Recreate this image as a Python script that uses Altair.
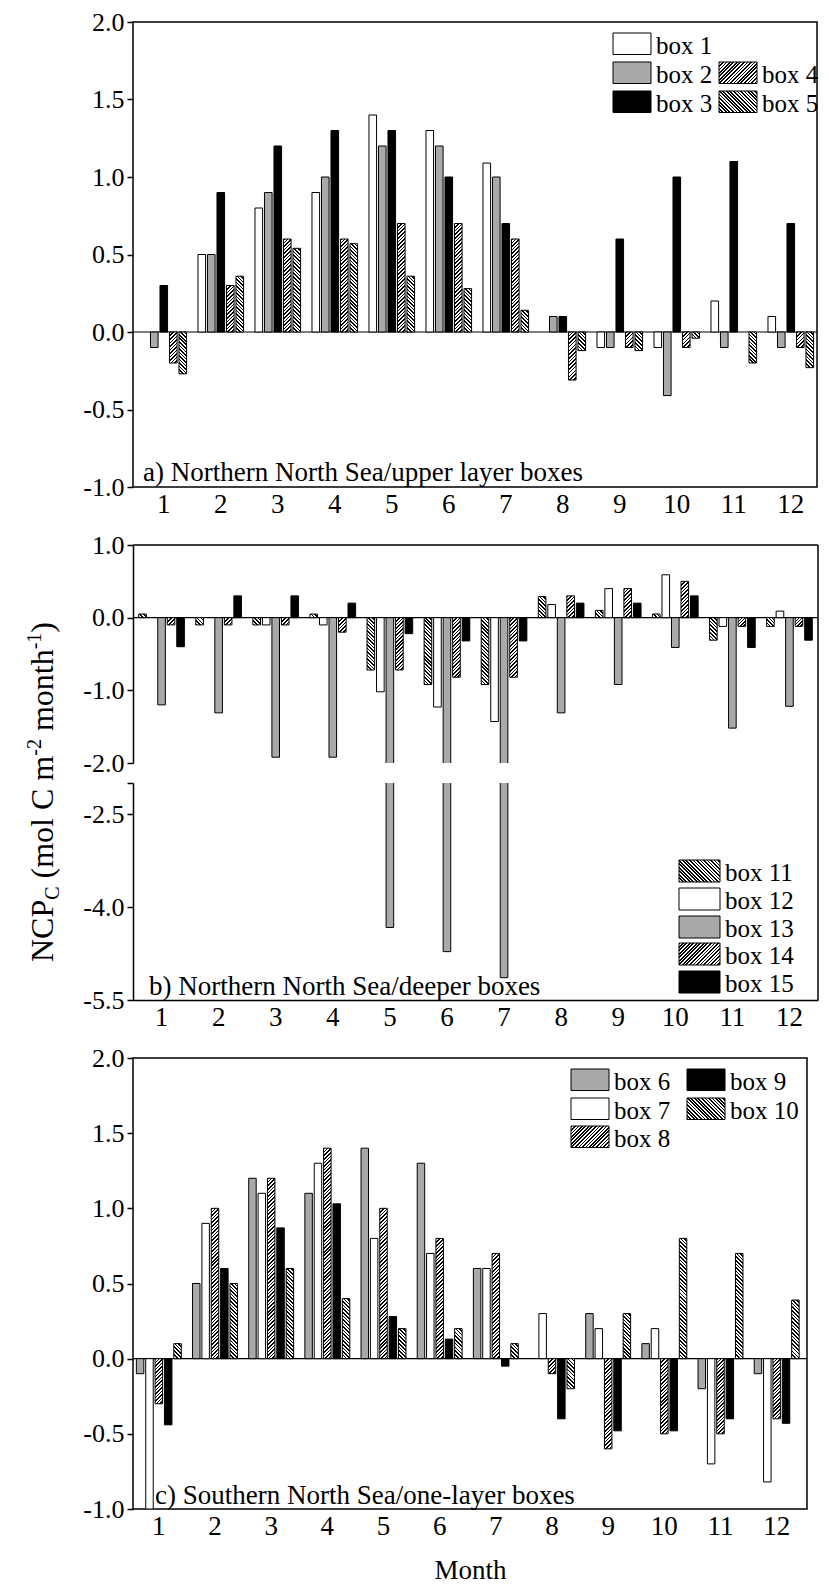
import altair as alt

# ---------------- data ----------------
MONTHS = [1, 2, 3, 4, 5, 6, 7, 8, 9, 10, 11, 12]

# a) Northern North Sea / upper layer boxes
BOXES_A = ["box 1", "box 2", "box 3", "box 4", "box 5"]
A_BOX1 = [0, 0.5, 0.8, 0.9, 1.4, 1.3, 1.09, 0, -0.1, -0.1, 0.2, 0.1]
A_BOX2 = [-0.1, 0.5, 0.9, 1.0, 1.2, 1.2, 1.0, 0.1, -0.1, -0.41, -0.1, -0.1]
A_BOX3 = [0.3, 0.9, 1.2, 1.3, 1.3, 1.0, 0.7, 0.1, 0.6, 1.0, 1.1, 0.7]
A_BOX4 = [-0.2, 0.3, 0.6, 0.6, 0.7, 0.7, 0.6, -0.31, -0.1, -0.1, 0, -0.1]
A_BOX5 = [-0.27, 0.36, 0.54, 0.57, 0.36, 0.28, 0.14, -0.12, -0.12, -0.04, -0.2, -0.23]

# b) Northern North Sea / deeper boxes
BOXES_B = ["box 11", "box 12", "box 13", "box 14", "box 15"]
B_BOX11 = [0.05, -0.1, -0.1, 0.05, -0.72, -0.92, -0.92, 0.29, 0.1, 0.05, -0.31, -0.12]
B_BOX12 = [0, 0, -0.1, -0.1, -1.02, -1.23, -1.43, 0.18, 0.4, 0.59, -0.12, 0.09]
B_BOX13 = [-1.2, -1.31, -1.92, -1.92, -4.33, -4.72, -5.14, -1.31, -0.92, -0.41, -1.52, -1.22]
B_BOX14 = [-0.1, -0.1, -0.1, -0.2, -0.72, -0.82, -0.82, 0.3, 0.4, 0.5, -0.12, -0.12]
B_BOX15 = [-0.4, 0.3, 0.3, 0.2, -0.22, -0.32, -0.32, 0.2, 0.2, 0.3, -0.41, -0.31]

# c) Southern North Sea / one-layer boxes
BOXES_C = ["box 6", "box 7", "box 8", "box 9", "box 10"]
C_BOX6 = [-0.1, 0.5, 1.2, 1.1, 1.4, 1.3, 0.6, 0, 0.3, 0.1, -0.2, -0.1]
C_BOX7 = [-1.0, 0.9, 1.1, 1.3, 0.8, 0.7, 0.6, 0.3, 0.2, 0.2, -0.7, -0.82]
C_BOX8 = [-0.3, 1.0, 1.2, 1.4, 1.0, 0.8, 0.7, -0.1, -0.6, -0.5, -0.5, -0.4]
C_BOX9 = [-0.44, 0.6, 0.87, 1.03, 0.28, 0.13, -0.05, -0.4, -0.48, -0.48, -0.4, -0.43]
C_BOX10 = [0.1, 0.5, 0.6, 0.4, 0.2, 0.2, 0.1, -0.2, 0.3, 0.8, 0.7, 0.39]

TITLE_A = "a) Northern North Sea/upper layer boxes"
TITLE_B = "b) Northern North Sea/deeper boxes"
TITLE_C = "c) Southern North Sea/one-layer boxes"

# ---------------- styling / layout ----------------
FONT = "Liberation Serif"
GREY = "#a9a9a9"
STYLES_A = ["white", "grey", "black", "fwd", "back"]
STYLES_B = ["back", "white", "grey", "fwd", "black"]
STYLES_C = ["grey", "white", "fwd", "black", "back"]

W_A, H_A = 684, 465
W_B, H_BU, H_BL = 685, 218, 217
W_C, H_C = 674, 451
DOM_A = [-1, 2]
DOM_BU = [-2, 1]
DOM_BL = [-5.5, -2]
DOM_C = [-1, 2]

# one band per bar, plus one empty band between months
KEYS = []
for _m in MONTHS:
    KEYS += [f"{_m}|{_k}" for _k in range(5)]
    if _m < 12:
        KEYS.append(f"gap{_m}")
PI = 0.2
PO = (12 * 6 - len(KEYS) + PI) / 2
MID_KEYS = [f"{m}|2" for m in MONTHS]


def bar_width(W):
    step = W / (len(KEYS) - PI + 2 * PO)
    return step * (1 - PI)


def hatch(w, h, kind, period=3.6, ink=0.45):
    L = w + h
    n = max(1, int(round(L / period)))
    k = L / (w * w + h * h)
    a, b = w * k, h * k
    if kind == "fwd":
        x1, y1, x2, y2 = 0, 0, a, b
    else:
        x1, y1, x2, y2 = 0, 1, a, 1 - b
    stops = []
    for i in range(n):
        s0, s1, s2 = i / n, (i + ink) / n, (i + 1) / n
        stops += [
            {"offset": round(s0, 5), "color": "black"},
            {"offset": round(s1, 5), "color": "black"},
            {"offset": round(s1, 5), "color": "white"},
            {"offset": round(s2, 5), "color": "white"},
        ]
    return {"gradient": "linear", "x1": x1, "y1": y1, "x2": x2, "y2": y2, "stops": stops}


def fill_for(style, w, h):
    if style == "white":
        return "#ffffff"
    if style == "grey":
        return GREY
    if style == "black":
        return "#000000"
    if h <= 0.5:
        return "#ffffff"
    return hatch(w, h, style)


def make_rows(boxes, series, styles, W, H, dom):
    ppu = H / (dom[1] - dom[0])
    bw = bar_width(W)
    rows = []
    for k, (box, vals, st) in enumerate(zip(boxes, series, styles)):
        for m, v in zip(MONTHS, vals):
            if v == 0:
                continue
            rows.append({"key": f"{m}|{k}", "month": m, "box": box, "value": v,
                         "fill": fill_for(st, bw, abs(v) * ppu)})
    return rows


ROWS_A = make_rows(BOXES_A, [A_BOX1, A_BOX2, A_BOX3, A_BOX4, A_BOX5], STYLES_A, W_A, H_A, DOM_A)
ROWS_B = make_rows(BOXES_B, [B_BOX11, B_BOX12, B_BOX13, B_BOX14, B_BOX15], STYLES_B, W_B, H_BU, DOM_BU)
ROWS_C = make_rows(BOXES_C, [C_BOX6, C_BOX7, C_BOX8, C_BOX9, C_BOX10], STYLES_C, W_C, H_C, DOM_C)

ONE = alt.Data(values=[{"k": 0}])
LBL = "replace(format(datum.value, '.1f'), '\u2212', '-')"
LBL_LOW = "datum.value == -2 ? '' : " + LBL


def xenc(labels, align, title=None, domain_line=False):
    if labels:
        axis = alt.Axis(title=title, values=MID_KEYS, labelExpr="split(datum.value, '|')[0]",
                        labelAngle=0, ticks=False, domain=domain_line,
                        labelPadding=4, labelFontSize=27, titleFontSize=27, titlePadding=18)
    else:
        axis = None
    return alt.X("key:N", scale=alt.Scale(domain=KEYS, paddingInner=PI, paddingOuter=PO, align=align),
                 axis=axis)


def yenc(dom, values, expr=LBL, domain_line=False):
    return alt.Y("value:Q", stack=None,
                 scale=alt.Scale(domain=dom, nice=False, zero=False),
                 axis=alt.Axis(values=values, labelExpr=expr, title=None, domain=domain_line))


def bars(rows, W, H, dom, values, xlabels, align=0.5, expr=LBL, domain_line=False,
         xtitle=None, xdomain=False):
    return alt.Chart(alt.Data(values=rows)).mark_bar(stroke="black", strokeWidth=1, clip=True).encode(
        x=xenc(xlabels, align, xtitle, xdomain),
        y=yenc(dom, values, expr, domain_line),
        y2=alt.datum(0),
        fill=alt.Fill("fill:N", scale=None, legend=None),
    ).properties(width=W, height=H)


def zero_rule():
    return alt.Chart(ONE).mark_rule(color="black", strokeWidth=1.2).encode(y=alt.datum(0))


def hrule(x0, x1, y):
    return alt.Chart(ONE).mark_rule(color="black", strokeWidth=1.5).encode(
        x=alt.value(x0), x2=alt.value(x1), y=alt.value(y))


def vrule(x, y0, y1):
    return alt.Chart(ONE).mark_rule(color="black", strokeWidth=1.5).encode(
        x=alt.value(x), y=alt.value(y0), y2=alt.value(y1))


def panel_title(text, x, y):
    return alt.Chart(ONE).mark_text(text=text, align="left", baseline="alphabetic",
                                    font=FONT, fontSize=27, color="black").encode(
        x=alt.value(x), y=alt.value(y))


def legend_layers(items):
    # items: (label, style, x0, y0, w, h, text_x)
    layers = []
    for label, style, x0, y0, w, h, tx in items:
        fill = fill_for(style, w, h)
        layers.append(alt.Chart(ONE).mark_rect(fill=fill, stroke="black", strokeWidth=1).encode(
            x=alt.value(x0), x2=alt.value(x0 + w), y=alt.value(y0), y2=alt.value(y0 + h)))
        layers.append(alt.Chart(ONE).mark_text(text=label, align="left", baseline="alphabetic",
                                               font=FONT, fontSize=25, color="black").encode(
            x=alt.value(tx), y=alt.value(y0 + h - 1)))
    return layers


TICKS_A = [-1, -0.5, 0, 0.5, 1, 1.5, 2]
TICKS_BU = [-2, -1.5, -1, -0.5, 0, 0.5, 1]
TICKS_BL = [-2, -2.5, -4, -5.5]

# ---- panel a ----
leg_a = [
    ("box 1", "white", 480, 11, 38, 21.5, 523),
    ("box 2", "grey", 480, 40, 38, 21.5, 523),
    ("box 3", "black", 480, 69, 38, 21.5, 523),
    ("box 4", "fwd", 586, 40, 38, 21.5, 629),
    ("box 5", "back", 586, 69, 38, 21.5, 629),
]
panel_a = alt.layer(
    zero_rule(),
    bars(ROWS_A, W_A, H_A, DOM_A, TICKS_A, True, align=0.7),
    panel_title(TITLE_A, 10, H_A - 6),
    *legend_layers(leg_a),
).properties(width=W_A, height=H_A, view=alt.ViewBackground(stroke="black", strokeWidth=1.5))

# ---- panel b upper ----
panel_bu = alt.layer(
    zero_rule(),
    bars(ROWS_B, W_B, H_BU, DOM_BU, TICKS_BU, False, domain_line=True),
    hrule(0, W_B, 0),
    vrule(W_B, 0, H_BU + 20),
).properties(width=W_B, height=H_BU)

# ---- panel b lower ----
leg_b = [
    ("box 11", "back", 546, 77, 41, 22, 592),
    ("box 12", "white", 546, 105, 41, 22, 592),
    ("box 13", "grey", 546, 133, 41, 22, 592),
    ("box 14", "fwd", 546, 160, 41, 22, 592),
    ("box 15", "black", 546, 188, 41, 22, 592),
]
panel_bl = alt.layer(
    bars(ROWS_B, W_B, H_BL, DOM_BL, TICKS_BL, True, expr=LBL_LOW,
         domain_line=True, xdomain=True).transform_filter("datum.value < -2"),
    vrule(W_B, 0, H_BL),
    panel_title(TITLE_B, 16, H_BL - 5),
    *legend_layers(leg_b),
).properties(width=W_B, height=H_BL)

# ---- panel c ----
leg_c = [
    ("box 6", "grey", 438, 11, 38, 21.5, 481),
    ("box 7", "white", 438, 40, 38, 21.5, 481),
    ("box 8", "fwd", 438, 68, 38, 21.5, 481),
    ("box 9", "black", 554, 11, 38, 21.5, 597),
    ("box 10", "back", 554, 40, 38, 21.5, 597),
]
panel_c = alt.layer(
    zero_rule(),
    bars(ROWS_C, W_C, H_C, DOM_C, TICKS_A, True, align=0.3, xtitle="Month"),
    panel_title(TITLE_C, 22, H_C - 5),
    *legend_layers(leg_c),
).properties(width=W_C, height=H_C, view=alt.ViewBackground(stroke="black", strokeWidth=1.5))


def spacer(h):
    return alt.Chart(ONE).mark_text(text="").encode(x=alt.value(0), y=alt.value(0)).properties(width=10, height=h)


# ---- rotated y-axis title with sub/superscripts ----
TITLE_PARTS = [  # text, font size, em width, baseline shift, gap after (em of 32px)
    ("NCP", 32, 1.945, 0, 0),
    ("C", 20, 0.667, 6, 0.25),
    ("(mol C m", 32, 3.834, 0, 0),
    ("-2", 20, 0.833, -12, 0.25),
    ("month", 32, 2.556, 0, 0),
    ("-1", 20, 0.833, -12, 0),
    (")", 32, 0.333, 0, 0),
]
TBASE_X = 45
TCENTER_Y = 770
total = sum(fs * em + gap * 32 for _, fs, em, _, gap in TITLE_PARTS)
pos = TCENTER_Y + total / 2
pieces = []
for t, fs, em, shift, gap in TITLE_PARTS:
    pieces.append({"t": t, "fs": fs, "px": TBASE_X + shift, "py": pos})
    pos -= fs * em + gap * 32

title_chart = alt.Chart(alt.Data(values=pieces)).mark_text(
    angle=270, align="left", baseline="alphabetic", font=FONT, color="black").encode(
    x=alt.X("px:Q", scale=None, axis=None),
    y=alt.Y("py:Q", scale=None, axis=None),
    text="t:N",
    size=alt.Size("fs:Q", scale=None, legend=None),
).properties(width=55, height=1486)

panels = alt.vconcat(panel_a, spacer(17.5), panel_bu, panel_bl, spacer(17.5), panel_c,
                     spacing=20, bounds="flush")

chart = alt.hconcat(title_chart, panels, spacing=70, bounds="flush").properties(
    padding={"left": 0, "top": 0, "right": 0, "bottom": 0}
).configure(background="white").configure_view(stroke=None).configure_axis(
    labelFont=FONT, labelFontSize=26, labelColor="black",
    titleFont=FONT, titleColor="black", titleFontWeight="normal",
    tickColor="black", tickWidth=1.5, tickSize=6,
    domainColor="black", domainWidth=1.5, grid=False, labelPadding=3,
)

chart.save("out.html", embed_options={"renderer": "svg", "actions": False})
